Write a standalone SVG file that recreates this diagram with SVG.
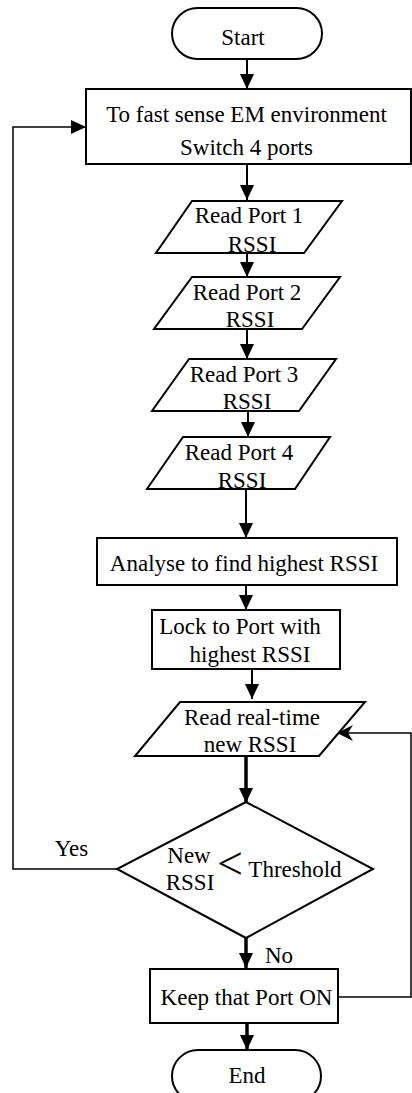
<svg xmlns="http://www.w3.org/2000/svg" width="412" height="1093" viewBox="0 0 412 1093">
<style>
.s{fill:#fff;stroke:#000;stroke-width:2}
.t{font-family:"Liberation Serif","Times New Roman",serif;font-size:23px;fill:#000;text-anchor:middle}
.c{fill:none;stroke:#000;stroke-width:2}
.k{fill:none;stroke:#000;stroke-width:3.5}
.l{fill:none;stroke:#000;stroke-width:1.5}
</style>
<defs>
<marker id="a" markerUnits="userSpaceOnUse" markerWidth="16" markerHeight="16" refX="15" refY="7" orient="auto"><path d="M0,0 L15,7 L0,14 z" fill="#000"/></marker>
<marker id="o" markerUnits="userSpaceOnUse" markerWidth="18" markerHeight="18" refX="16" refY="8" orient="auto"><path d="M0,0 L16,8 L0,16 L5,8 z" fill="#000"/></marker>
</defs>
<g id="connectors">
<line class="c" x1="247" y1="59" x2="247" y2="89" marker-end="url(#a)"/>
<line class="c" x1="247" y1="164" x2="247" y2="200" marker-end="url(#a)"/>
<line class="c" x1="247" y1="253" x2="247" y2="277" marker-end="url(#a)"/>
<line class="c" x1="247" y1="329" x2="247" y2="359" marker-end="url(#a)"/>
<line class="c" x1="248" y1="408" x2="248" y2="437" marker-end="url(#a)"/>
<line class="c" x1="246" y1="489" x2="246" y2="538" marker-end="url(#a)"/>
<line class="c" x1="246" y1="585" x2="246" y2="610" marker-end="url(#a)"/>
<line class="c" x1="252" y1="669" x2="252" y2="699" marker-end="url(#a)"/>
<line class="k" x1="246" y1="756" x2="246" y2="803" marker-end="url(#a)"/>
<line class="k" x1="246" y1="938" x2="246" y2="968" marker-end="url(#a)"/>
<line class="k" x1="247" y1="1023" x2="247" y2="1050" marker-end="url(#a)"/>
<polyline class="l" points="117,869 13,869 13,127 86,127" marker-end="url(#a)"/>
<polyline class="l" points="338,997 411,997 411,733 337,733" marker-end="url(#o)"/>
<text class="t" x="71.5" y="856">Yes</text>
<text class="t" x="279" y="963">No</text>
</g>
<g id="start"><rect class="s" x="172" y="8" width="150" height="51" rx="25.5"/><text class="t" x="243" y="45">Start</text></g>
<g id="sense"><rect class="s" x="86" y="89" width="325" height="75"/><text class="t" x="246.5" y="122">To fast sense EM environment</text><text class="t" x="246.5" y="155">Switch 4 ports</text></g>
<g id="port1"><polygon class="s" points="192,201 342,201 304,253 156,253"/><text class="t" x="249" y="223">Read Port 1</text><text class="t" x="252" y="252">RSSI</text></g>
<g id="port2"><polygon class="s" points="192,277 340,277 302,329 154,329"/><text class="t" x="247" y="300">Read Port 2</text><text class="t" x="250" y="327">RSSI</text></g>
<g id="port3"><polygon class="s" points="189,359 336,359 299,411 152,411"/><text class="t" x="244" y="382">Read Port 3</text><text class="t" x="247" y="409">RSSI</text></g>
<g id="port4"><polygon class="s" points="183,437 330,437 295,489 147,489"/><text class="t" x="239" y="460">Read Port 4</text><text class="t" x="242" y="488">RSSI</text></g>
<g id="analyse"><rect class="s" x="97" y="538" width="300" height="47"/><text class="t" x="244" y="571">Analyse to find highest RSSI</text></g>
<g id="lock"><rect class="s" x="152" y="610" width="188" height="59"/><text class="t" x="240" y="634">Lock to Port with</text><text class="t" x="250" y="662">highest RSSI</text></g>
<g id="realtime"><polygon class="s" points="180,702 365,702 319,756 135,756"/><text class="t" x="252" y="725">Read real-time</text><text class="t" x="250" y="752">new RSSI</text></g>
<g id="decision"><polygon class="s" points="246,802 373,869 246,938 117,869"/><text class="t" x="189" y="863">New</text><text class="t" x="190" y="890">RSSI</text><text class="t" x="230" y="879" style="font-size:46px">&lt;</text><text class="t" x="295" y="877">Threshold</text></g>
<g id="keep"><rect class="s" x="150" y="969" width="188" height="54"/><text class="t" x="246.5" y="1005">Keep that Port ON</text></g>
<g id="end"><rect class="s" x="172" y="1050" width="149" height="52" rx="26"/><text class="t" x="247" y="1083">End</text></g>
</svg>
